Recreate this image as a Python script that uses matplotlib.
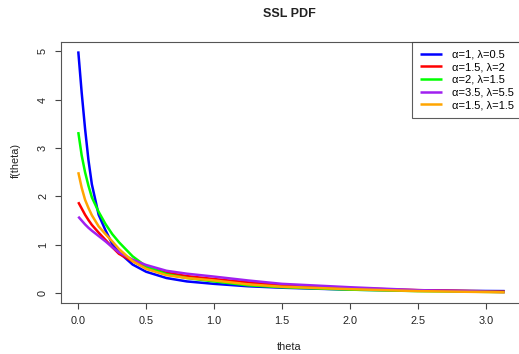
import matplotlib

matplotlib.use("Agg")
import matplotlib.pyplot as plt

plt.rcParams["font.family"] = ["Liberation Sans", "DejaVu Sans"]

# theta grid the curves were read at
theta = [0, 0.025, 0.05, 0.075, 0.1, 0.15, 0.2, 0.25, 0.3, 0.4, 0.5, 0.65,
         0.8, 1.0, 1.25, 1.5, 2.0, 2.5, 3.14]

# f(theta), one list per parameter pair
f_a1_l05 = [5.0, 4.15, 3.4, 2.75, 2.25, 1.62, 1.30, 1.02, 0.84, 0.59, 0.44,
            0.31, 0.24, 0.19, 0.14, 0.11, 0.07, 0.05, 0.04]
f_a15_l2 = [1.88, 1.75, 1.62, 1.51, 1.41, 1.25, 1.10, 0.95, 0.81, 0.66, 0.53,
            0.42, 0.35, 0.29, 0.22, 0.16, 0.10, 0.06, 0.03]
f_a2_l15 = [3.33, 2.85, 2.5, 2.22, 1.98, 1.68, 1.43, 1.22, 1.05, 0.76, 0.55,
            0.39, 0.31, 0.24, 0.16, 0.12, 0.07, 0.04, 0.02]
f_a35_l55 = [1.58, 1.50, 1.42, 1.35, 1.29, 1.18, 1.07, 0.95, 0.84, 0.69, 0.58,
             0.46, 0.40, 0.34, 0.26, 0.19, 0.12, 0.06, 0.02]
f_a15_l15 = [2.5, 2.18, 1.93, 1.76, 1.61, 1.38, 1.22, 1.07, 0.91, 0.66, 0.50,
             0.37, 0.31, 0.26, 0.18, 0.13, 0.08, 0.04, 0.015]

labels = ["α=1, λ=0.5", "α=1.5, λ=2", "α=2, λ=1.5", "α=3.5, λ=5.5", "α=1.5, λ=1.5"]
colors = ["#0000FF", "#FF0000", "#00FF00", "#A020F0", "#FFA500"]
series = [f_a1_l05, f_a15_l2, f_a2_l15, f_a35_l55, f_a15_l15]

W, H = 519, 354
# plot box runs a little past the right edge of the image, as in the reference
left, right, top, bottom = 61.2, 522.0, 41.7, 302.7
fig = plt.figure(figsize=(W / 100, H / 100), dpi=100)
ax = fig.add_axes([left / W, 1 - bottom / H, (right - left) / W, (bottom - top) / H])

for ys, c, lab in zip(series, colors, labels):
    ax.plot(theta, ys, color=c, lw=1.8, label=lab, solid_capstyle="butt")

ax.set_xlim(-0.1257, 3.2673)
ax.set_ylim(-0.2, 5.2)
ax.set_xticks([0, 0.5, 1.0, 1.5, 2.0, 2.5, 3.0])
ax.set_xticklabels(["0.0", "0.5", "1.0", "1.5", "2.0", "2.5", "3.0"])
ax.set_yticks([0, 1, 2, 3, 4, 5])
for lbl in ax.get_yticklabels():
    lbl.set_rotation(90)
    lbl.set_va("center")
ax.tick_params(direction="out", length=4, width=0.8, colors="#444444",
               labelcolor="#222222", labelsize=7.8, pad=5.5)
for sp in ax.spines.values():
    sp.set_color("#555555")
    sp.set_linewidth(0.8)

leg = ax.legend(loc="upper right", bbox_to_anchor=(1, 1), borderaxespad=0,
                fancybox=False, edgecolor="#333333", fontsize=8,
                handlelength=2.0, handletextpad=0.9, labelspacing=0.24,
                borderpad=0.7)
leg.get_frame().set_linewidth(0.8)

fig.text(289 / W, 1 - 14 / H, "SSL PDF", ha="center", va="center",
         fontsize=9, fontweight="bold", color="#222222")
fig.text(289 / W, 1 - 347 / H, "theta", ha="center", va="center",
         fontsize=7.8, color="#222222")
fig.text(16 / W, 1 - 160 / H, "f(theta)", ha="center", va="center",
         rotation=90, fontsize=7.8, color="#222222")

fig.savefig("out.png", dpi=100)
